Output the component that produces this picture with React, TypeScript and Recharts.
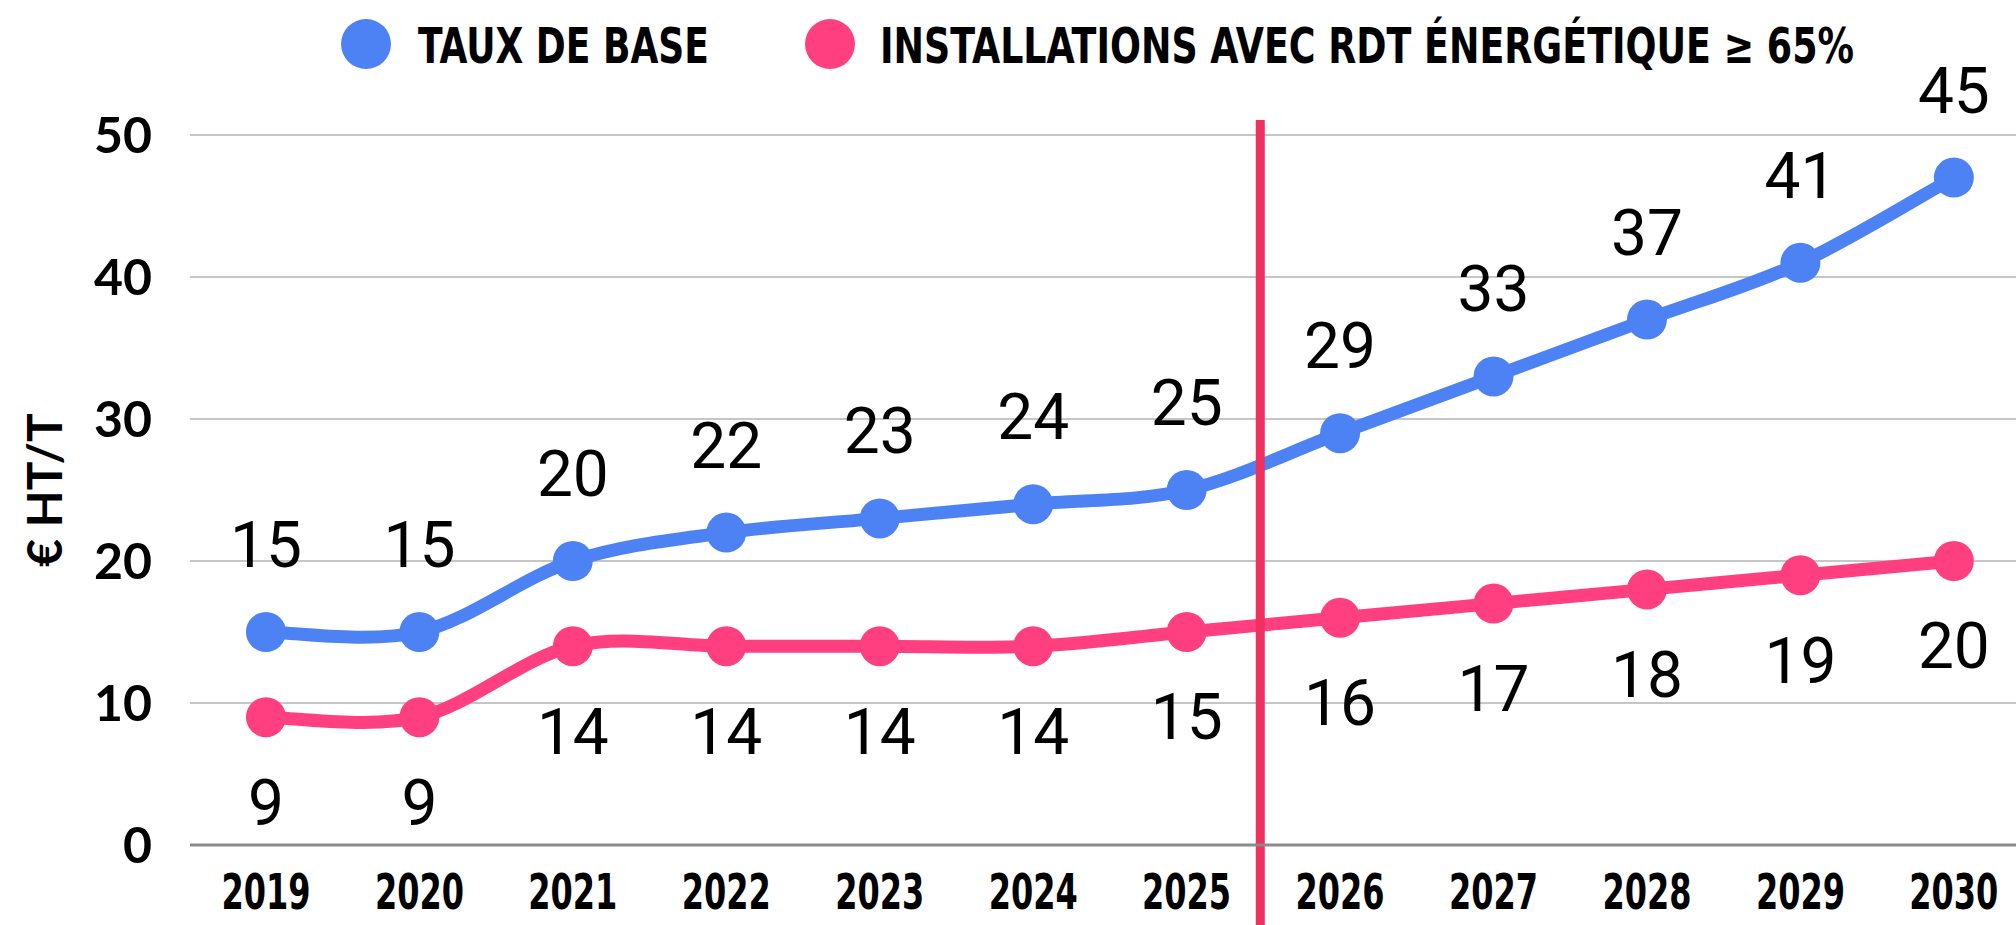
import React from "react";
import {
  LineChart,
  Line,
  XAxis,
  YAxis,
  CartesianGrid,
  ReferenceLine,
  LabelList,
} from "recharts";

const years = [2019, 2020, 2021, 2022, 2023, 2024, 2025, 2026, 2027, 2028, 2029, 2030];
const tauxDeBase = [15, 15, 20, 22, 23, 24, 25, 29, 33, 37, 41, 47];
const tauxDeBaseLabels = [15, 15, 20, 22, 23, 24, 25, 29, 33, 37, 41, 45];
const rdtEnergetique = [9, 9, 14, 14, 14, 14, 15, 16, 17, 18, 19, 20];
const rdtLabels = [9, 9, 14, 14, 14, 14, 15, 16, 17, 18, 19, 20];
const seriesNames = ["TAUX DE BASE", "INSTALLATIONS AVEC RDT ÉNERGÉTIQUE ≥ 65%"];
const yTicks = [0, 10, 20, 30, 40, 50];
const splitYear = 2025.48;

const BLUE = "#4D82F4";
const PINK = "#FF3F7F";
const SPLIT = "#F0315F";
const CONDENSED = "'DejaVu Sans Condensed', 'DejaVu Sans', sans-serif";

const data = years.map((year, i) => ({
  year,
  base: tauxDeBase[i],
  baseLabel: tauxDeBaseLabels[i],
  rdt: rdtEnergetique[i],
  rdtLabel: rdtLabels[i],
}));

// catmull-rom style smoothing, like the sheet's "smooth" lines
const smoothCurve = (context: any) => {
  let pts: [number, number][] = [];
  return {
    areaStart() {},
    areaEnd() {},
    lineStart() {
      pts = [];
    },
    point(x: number, y: number) {
      pts.push([+x, +y]);
    },
    lineEnd() {
      if (!pts.length) return;
      context.moveTo(pts[0][0], pts[0][1]);
      for (let i = 0; i < pts.length - 1; i++) {
        const p0 = pts[Math.max(i - 1, 0)];
        const p1 = pts[i];
        const p2 = pts[i + 1];
        const p3 = pts[Math.min(i + 2, pts.length - 1)];
        context.bezierCurveTo(
          p1[0] + (p2[0] - p0[0]) / 6,
          p1[1] + (p2[1] - p0[1]) / 6,
          p2[0] - (p3[0] - p1[0]) / 6,
          p2[1] - (p3[1] - p1[1]) / 6,
          p2[0],
          p2[1]
        );
      }
    },
  };
};

// tall, narrow lettering: small font stretched vertically around the baseline
const stretch = (y: number, k: number) => `matrix(1 0 0 ${k} 0 ${-(k - 1) * y})`;

const YearTick = (props: any) => {
  const { x, y, payload } = props;
  const base = y + 64;
  return (
    <text
      x={x}
      y={base}
      transform={stretch(base, 1.35)}
      textAnchor="middle"
      textLength={89}
      lengthAdjust="spacingAndGlyphs"
      fontFamily={CONDENSED}
      fontWeight="bold"
      fontSize={37}
      fill="#000"
    >
      {payload.value}
    </text>
  );
};

const YLabel = (props: any) => {
  const vb = props.viewBox || { x: 0, y: 135, width: 190, height: 710 };
  const cx = 43;
  const cy = vb.y + vb.height / 2;
  return (
    <text
      x={cx}
      y={cy}
      transform={`rotate(-90 ${cx} ${cy})`}
      textAnchor="middle"
      dominantBaseline="central"
      fontFamily="Lato, sans-serif"
      fontWeight={700}
      fontSize={48}
      fill="#000"
    >
      € HT/T
    </text>
  );
};

function ChartLegend() {
  const items = [
    { name: seriesNames[0], color: BLUE, cx: 366, tx: 418, len: 291 },
    { name: seriesNames[1], color: PINK, cx: 830, tx: 880, len: 974 },
  ];
  return (
    <svg
      width={2016}
      height={100}
      style={{ position: "absolute", left: 0, top: 0 }}
    >
      {items.map((it) => (
        <g key={it.name}>
          <circle cx={it.cx} cy={44} r={25} fill={it.color} />
          <text
            x={it.tx}
            y={63}
            transform={stretch(63, 1.27)}
            textLength={it.len}
            lengthAdjust="spacingAndGlyphs"
            fontFamily={CONDENSED}
            fontWeight="bold"
            fontSize={39}
            fill="#000"
          >
            {it.name}
          </text>
        </g>
      ))}
    </svg>
  );
}

export default function App() {
  return (
    <div style={{ position: "relative", width: 2016, height: 925, background: "#fff" }}>
      <style>{"body{margin:0}"}</style>
      <LineChart
        width={2016}
        height={925}
        data={data}
        margin={{ top: 135, right: 0, bottom: 0, left: 0 }}
      >
        <CartesianGrid vertical={false} stroke="#c6c6c6" strokeWidth={2} />
        <XAxis
          dataKey="year"
          type="number"
          domain={[2018.505, 2030.405]}
          allowDataOverflow
          ticks={years}
          height={80}
          tickLine={false}
          tickSize={0}
          tickMargin={0}
          axisLine={{ stroke: "#8a8a8a", strokeWidth: 3 }}
          tick={<YearTick />}
        />
        <YAxis
          domain={[0, 50]}
          ticks={yTicks}
          width={190}
          axisLine={false}
          tickLine={false}
          tickSize={0}
          tickMargin={38}
          tick={{ fontFamily: "Lato, sans-serif", fontWeight: 700, fontSize: 50, fill: "#000" }}
          label={{ content: <YLabel /> }}
        />
        <Line
          dataKey="base"
          type={smoothCurve as any}
          stroke={BLUE}
          strokeWidth={13}
          dot={{ r: 20, fill: BLUE, stroke: BLUE, strokeWidth: 0 }}
          activeDot={false}
          isAnimationActive={false}
        >
          <LabelList
            dataKey="baseLabel"
            position="top"
            offset={65}
            fill="#000"
            fontFamily="Roboto, sans-serif"
            fontSize={64}
          />
        </Line>
        <Line
          dataKey="rdt"
          type={smoothCurve as any}
          stroke={PINK}
          strokeWidth={13}
          dot={{ r: 20, fill: PINK, stroke: PINK, strokeWidth: 0 }}
          activeDot={false}
          isAnimationActive={false}
        >
          <LabelList
            dataKey="rdtLabel"
            position="bottom"
            offset={62}
            fill="#000"
            fontFamily="Roboto, sans-serif"
            fontSize={64}
          />
        </Line>
        <ReferenceLine
          segment={[
            { x: splitYear, y: 51.06 },
            { x: splitYear, y: -6 },
          ]}
          stroke={SPLIT}
          strokeWidth={9}
          ifOverflow="visible"
        />
      </LineChart>
      <ChartLegend />
    </div>
  );
}
